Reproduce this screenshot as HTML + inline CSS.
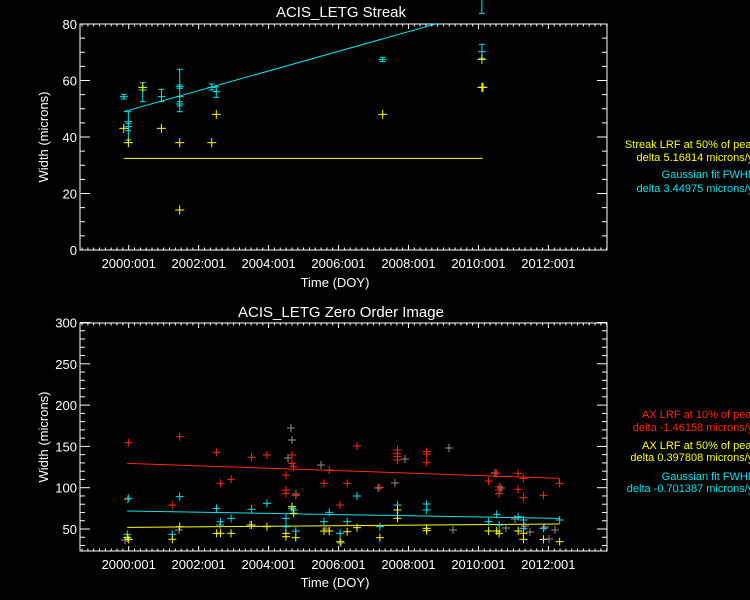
<!DOCTYPE html>
<html><head><meta charset="utf-8"><style>
html,body{margin:0;padding:0;background:#000;}
svg{display:block;font-family:"Liberation Sans",sans-serif;}
</style></head><body>
<svg id="s" width="750" height="600" viewBox="0 0 750 600" xmlns="http://www.w3.org/2000/svg">
<rect width="750" height="600" fill="#000"/>
<text x="341" y="17" fill="#fff" font-size="15" text-anchor="middle">ACIS_LETG Streak</text>
<text x="341" y="317" fill="#fff" font-size="15" text-anchor="middle">ACIS_LETG Zero Order Image</text>
<text x="335" y="287" fill="#fff" font-size="13" text-anchor="middle">Time (DOY)</text>
<text x="335" y="587" fill="#fff" font-size="13" text-anchor="middle">Time (DOY)</text>
<text transform="translate(48,137) rotate(-90)" fill="#fff" font-size="13" text-anchor="middle">Width (microns)</text>
<text transform="translate(48,437) rotate(-90)" fill="#fff" font-size="13" text-anchor="middle">Width (microns)</text>
<g font-size="11" text-anchor="end">
<text x="757" y="148" fill="#ffff00">Streak LRF at 50% of peak</text>
<text x="757" y="161" fill="#ffff00">delta 5.16814 microns/yr</text>
<text x="757" y="178" fill="#00e5ee">Gaussian fit FWHM</text>
<text x="757" y="192" fill="#00e5ee">delta 3.44975 microns/yr</text>
<text x="757" y="418" fill="#ff2a00">AX LRF at 10% of peak</text>
<text x="757" y="431" fill="#ff2a00">delta -1.46158 microns/yr</text>
<text x="757" y="449" fill="#ffff00">AX LRF at 50% of peak</text>
<text x="757" y="461" fill="#ffff00">delta 0.397808 microns/yr</text>
<text x="757" y="480" fill="#00e5ee">Gaussian fit FWHM</text>
<text x="757" y="492" fill="#00e5ee">delta -0.701387 microns/yr</text>
</g>
<g id="g"></g>
</svg>
<script>
var g=document.getElementById('g'),h='';
function L(x1,y1,x2,y2,c,w){h+='<line x1="'+x1+'" y1="'+y1+'" x2="'+x2+'" y2="'+y2+'" stroke="'+c+'" stroke-width="'+(w||1)+'"/>';}
function T(x,y,t,a){h+='<text x="'+x+'" y="'+y+'" fill="#fff" font-size="13" text-anchor="'+(a||'middle')+'">'+t+'</text>';}
function axes(x0,x1,y0,y1,labs,yl){
 h+='<rect x="'+x0+'" y="'+y0+'" width="'+(x1-x0)+'" height="'+(y1-y0)+'" fill="none" stroke="#fff"/>';
 var yrs=['2000:001','2002:001','2004:001','2006:001','2008:001','2010:001','2012:001'];
 for(var i=-1;i<=8;i++){var x=128.7+i*69.95;
  if(i>=0&&i<7){L(x,y1,x,y1-5,'#fff');L(x,y0,x,y0+5,'#fff');T(x,y1+18,yrs[i]);}
  for(var k=1;k<12;k++){var xm=x+k*69.95/12;if(xm>x0&&xm<x1){L(xm,y1,xm,y1-2.5,'#fff');L(xm,y0,xm,y0+2.5,'#fff');}}}
 labs.forEach(function(l){L(x0,l[0],x0+10,l[0],'#fff');L(x1,l[0],x1-10,l[0],'#fff');T(x0-3,l[0]+5,l[1],'end');});
 yl.forEach(function(y){L(x0,y,x0+5,y,'#fff');L(x1,y,x1-5,y,'#fff');});
}
var tl=[],tm=[];for(var v=0;v<=80;v+=5){var y=250-v*226/80;if(v%20==0)tl.push([y,v]);else tm.push(y);}
axes(80,607,24,250,tl,tm);
var bl=[],bm=[];for(var v=30;v<=300;v+=10){var y=529-(v-50)*0.826;if(v%50==0)bl.push([y,v]);else bm.push(y);}
axes(80,607,323,551,bl,bm);
function X(zx){return 59.75+zx*0.3518;}
function P(zx,zy,oy,c,s){var x=X(zx),y=oy+zy/3;s=s||4;L(x-s,y,x+s,y,c);L(x,y-s,x,y+s,c);}
function E(zx,zy,a,b,c){var x=X(zx);L(x,a/3,x,b/3,c);L(x-3,a/3,x+3,a/3,c);L(x-3,b/3,x+3,b/3,c);L(x-4,zy/3,x+4,zy/3,c);}
var C='#00e5ee',Y='#ffff00',R='#ff2a00',G='#909090';
L(X(182),335/3,X(1075),70/3,C);
L(X(182),475/3,X(1202),475/3,Y);
[[182,290,283,297],[195,365,335,420],[195,380,370,392],[236,270,248,305],[289,290,268,305],[341,290,208,335],[341,260,255,265],[341,312,305,318],[432,262,252,270],[445,275,260,292],[918,178,172,185],[1200,155,133,175],[1200,-10,-10,40]].forEach(function(p){E(p[0],p[1],p[2],p[3],C);});
[[182,385],[195,428],[236,262],[289,385],[341,428],[341,630],[432,428],[445,343],[918,343],[1200,178],[1200,262],[1203,262]].forEach(function(p){P(p[0],p[1],0,Y,4.5);});
L(X(192),300+490/3,X(1420),300+535/3,R);L(X(1420),300+535/3,X(1420),300+548/3,R);
L(X(192),300+633/3,X(1420),300+655/3,C);
L(X(192),300+682/3,X(1420),300+672/3,Y);
[[125,540],[179,530],[220,525],[250,525],[288,458],[291,428],[292,440],[296,494],[321,465],[326,529],[341,543],[378,488],[395,483],[405,459],[449,448],[453,530],[495,473],[501,488],[506,528],[515,519],[525,526],[530,532],[545,527],[549,539],[555,530]].forEach(function(p){var x=p[0],y=p[1];L(x-4,y,x+4,y,G);L(x,y-4,x,y+4,G);});
[[196,428],[192,598],[341,410],[320,615],[446,457],[457,550],[487,538],[545,472],[589,465],[643,525],[643,570],[643,580],[660,465],[660,490],[665,500],[671,587],[751,550],[766,510],[797,615],[817,550],[845,438],[910,562],[960,450],[960,460],[960,470],[960,480],[1043,455],[1043,462],[1043,487],[1219,543],[1242,520],[1249,560],[1249,570],[1249,580],[1303,520],[1303,568],[1318,535],[1318,593],[1375,586],[1421,550]].forEach(function(p){P(p[0],p[1],300,R);});
[[196,595],[192,703],[320,703],[341,590],[446,625],[457,665],[487,655],[545,628],[589,610],[643,655],[643,680],[660,625],[665,630],[671,693],[766,637],[751,665],[797,700],[817,665],[845,588],[910,680],[960,615],[1043,612],[1043,630],[1219,665],[1242,643],[1249,675],[1303,650],[1318,660],[1318,685],[1375,685],[1421,660]].forEach(function(p){P(p[0],p[1],300,C);});
[[196,718],[192,713],[320,718],[341,680],[446,700],[457,700],[487,700],[545,675],[589,680],[643,700],[643,710],[660,620],[665,640],[671,713],[751,693],[766,693],[797,725],[817,695],[845,683],[910,713],[960,655],[960,630],[1043,685],[1043,692],[1219,693],[1242,693],[1249,700],[1303,693],[1318,718],[1318,700],[1375,718],[1421,725]].forEach(function(p){P(p[0],p[1],300,Y);});
g.innerHTML=h;
</script>
</body></html>
